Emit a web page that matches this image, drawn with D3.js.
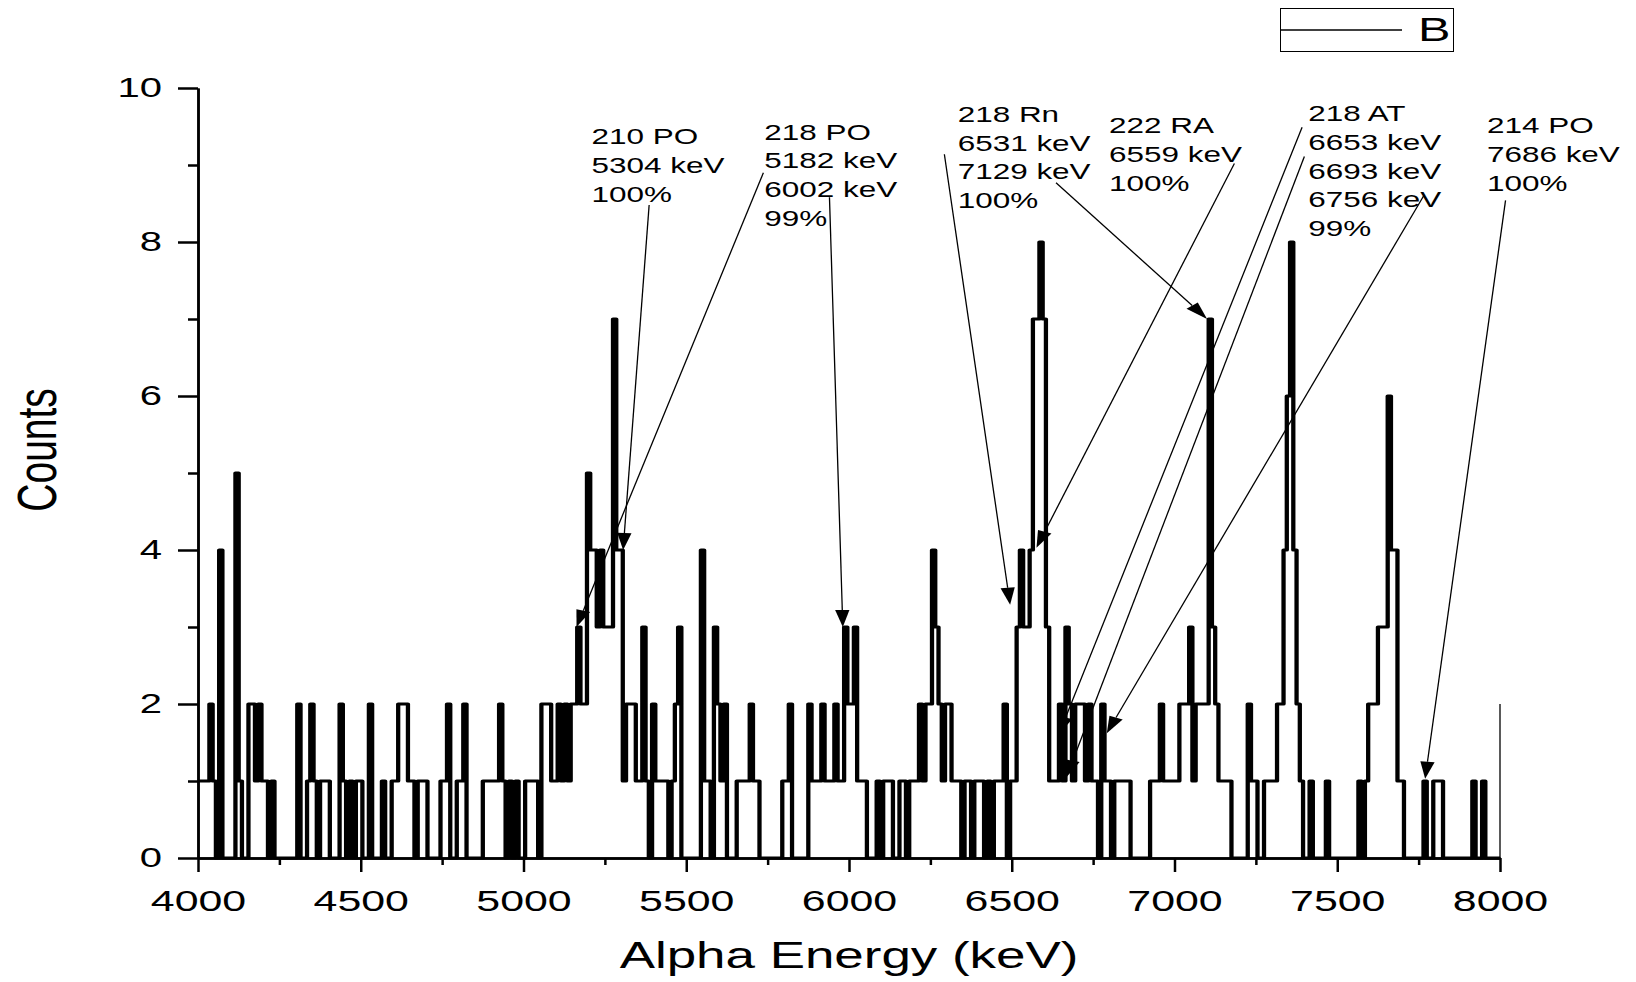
<!DOCTYPE html>
<head>
  <meta charset="utf-8">
  <title>Alpha Energy Spectrum</title>
  <script src="https://cdn.jsdelivr.net/npm/d3@7"></script>
  <style>
    body { margin: 0; background: #fff; }
    text { font-family: "Liberation Sans", Arial, Helvetica, sans-serif; fill: #000; }
  </style>
</head>

<body>

  <script type="text/javascript">
    var WIDTH = 1636;
    var HEIGHT = 982;
    var STRETCH = 1.43;   // the original export is stretched sideways, text and strokes included
    var BIN = 10;         // keV per channel

    //===========data
    // channel centres (keV) that hold counts; every other channel is 0
    var binEnergy = [
      4000, 4010, 4020, 4030, 4040, 4050, 4070, 4120, 4130, 4160, 4170, 4180, 4190, 4200, 4210, 4230,
      4310, 4340, 4350, 4360, 4380, 4390, 4400, 4440, 4450, 4470, 4490, 4500, 4530, 4570,
      4600, 4610, 4620, 4630, 4640, 4650, 4660, 4680, 4690, 4700, 4750, 4760, 4770,
      4800, 4810, 4820, 4880, 4890, 4900, 4910, 4920, 4930, 4940, 4960, 4980,
      5010, 5020, 5030, 5040, 5060, 5070, 5080, 5090, 5100, 5110, 5120, 5130, 5140, 5150,
      5160, 5170, 5180, 5190, 5200, 5210, 5220, 5230, 5240, 5250, 5260, 5270, 5280, 5290,
      5300, 5310, 5320, 5330, 5340, 5350, 5360, 5370, 5380, 5400, 5410, 5420, 5430, 5440,
      5460, 5470, 5480, 5550, 5560, 5570, 5590, 5600, 5610, 5620, 5660, 5670, 5680, 5690,
      5700, 5710, 5720, 5800, 5810, 5820, 5880, 5890, 5900, 5910, 5920, 5930, 5940, 5950,
      5960, 5970, 5980, 5990, 6000, 6010, 6020, 6030, 6040, 6050, 6090, 6110, 6120, 6130,
      6160, 6170, 6190, 6200, 6210, 6220, 6230, 6240, 6250, 6260, 6270, 6280, 6290, 6300,
      6310, 6320, 6330, 6340, 6360, 6370, 6390, 6400, 6410, 6430, 6450, 6460, 6470, 6480,
      6500, 6510, 6520, 6530, 6540, 6550, 6560, 6570, 6580, 6590, 6600, 6610, 6620, 6630,
      6640, 6650, 6660, 6670, 6680, 6690, 6700, 6710, 6720, 6730, 6740, 6750, 6760, 6780,
      6790, 6800, 6820, 6830, 6840, 6850, 6860, 6930, 6940, 6950, 6960, 6970, 6980, 6990,
      7000, 7010, 7020, 7030, 7040, 7050, 7060, 7070, 7080, 7090, 7100, 7110, 7120, 7130,
      7140, 7150, 7160, 7170, 7230, 7240, 7250, 7280, 7290, 7300, 7310, 7320, 7330, 7340,
      7350, 7360, 7370, 7380, 7390, 7420, 7470, 7570, 7590, 7600, 7610, 7620, 7630, 7640,
      7650, 7660, 7670, 7680, 7690, 7700, 7770, 7800, 7810, 7820, 7920, 7950
    ];
    var binCounts = [
      1, 1, 1, 1, 2, 1, 4, 5, 1, 2, 2, 1, 2, 1, 1, 1,
      2, 1, 2, 1, 1, 1, 1, 2, 1, 1, 1, 1, 2, 1,
      1, 1, 2, 2, 2, 1, 1, 1, 1, 1, 1, 1, 2,
      1, 1, 2, 1, 1, 1, 1, 1, 2, 1, 1, 1,
      1, 1, 1, 1, 2, 2, 2, 1, 1, 2, 1, 2, 1, 2,
      2, 3, 2, 2, 5, 4, 4, 3, 4, 3, 3, 3, 7, 4,
      4, 1, 2, 2, 2, 1, 1, 3, 1, 2, 1, 1, 1, 1,
      1, 2, 3, 4, 1, 1, 3, 2, 1, 2, 1, 1, 1, 1,
      2, 1, 1, 1, 1, 2, 2, 1, 1, 1, 2, 1, 1, 1,
      2, 1, 1, 3, 2, 2, 3, 1, 1, 1, 1, 1, 1, 1,
      1, 1, 1, 1, 1, 2, 1, 2, 2, 4, 3, 2, 1, 2,
      2, 1, 1, 1, 1, 1, 1, 1, 1, 1, 1, 1, 1, 2,
      1, 1, 3, 4, 3, 3, 4, 7, 7, 8, 7, 3, 1, 1,
      1, 2, 1, 3, 2, 1, 2, 2, 2, 1, 2, 1, 1, 2,
      1, 1, 1, 1, 1, 1, 1, 1, 1, 1, 2, 1, 1, 1,
      1, 1, 2, 2, 2, 3, 1, 2, 2, 2, 2, 7, 3, 2,
      1, 1, 1, 1, 2, 1, 1, 1, 1, 1, 1, 2, 2, 4,
      6, 8, 4, 2, 1, 1, 1, 1, 1, 2, 2, 2, 3, 3,
      3, 6, 4, 4, 1, 1, 1, 1, 1, 1, 1, 1
    ];

    var xMajorTicks = [4000, 4500, 5000, 5500, 6000, 6500, 7000, 7500, 8000];
    var xMinorTicks = [4250, 4750, 5250, 5750, 6250, 6750, 7250, 7750];
    var yMajorTicks = [0, 2, 4, 6, 8, 10];
    var yMinorTicks = [1, 3, 5, 7, 9];

    // peak notes: text lines, where the first line sits (keV, counts)
    var noteText = [
      ["210 PO", "5304 keV", "100%"],
      ["218 PO", "5182 keV", "6002 keV", "99%"],
      ["218 Rn", "6531 keV", "7129 keV", "100%"],
      ["222 RA", "6559 keV", "100%"],
      ["218 AT", "6653 keV", "6693 keV", "6756 keV", "99%"],
      ["214 PO", "7686 keV", "100%"]
    ];
    var noteAt = [[5209, 9.27], [5740, 9.33], [6334, 9.56], [6799, 9.41], [7411, 9.57], [7960, 9.41]];

    // arrows from a note to its peak, (keV, counts)
    var arrowFrom = [[5386, 8.48], [5737, 8.90], [5940, 8.58], [6293, 9.14], [6636, 8.77],
                     [7184, 9.02], [7392, 9.49], [7399, 9.11], [7767, 8.61], [8017, 8.54]];
    var arrowTo   = [[5306, 4.00], [5163, 3.00], [5981, 3.00], [6495, 3.29], [7100, 7.00],
                     [6576, 4.03], [6645, 1.61], [6668, 1.05], [6792, 1.62], [7770, 1.03]];

    //===========scales
    var x = d3.scaleLinear().domain([4000, 8000]).range([198, 1500]);
    var y = d3.scaleLinear().domain([0, 10]).range([858, 88]);
    // same x scale before the sideways stretch, so strokes widen like the original
    var xRaw = d3.scaleLinear().domain([4000, 8000]).range([198 / STRETCH, 1500 / STRETCH]);

    var svg = d3.select("body").append("svg")
                .attr("width", WIDTH)
                .attr("height", HEIGHT);

    //===========histogram as one step line
    var lookup = {};
    binEnergy.forEach(function(e, i){ lookup[e] = binCounts[i]; });
    var steps = d3.range(4000, 8001, BIN).map(function(e){
      return [Math.max(4000, e - BIN / 2), lookup[e] || 0];
    });
    steps.push([8000, 0]);

    var line = d3.line()
                 .x(function(d){ return xRaw(d[0]); })
                 .y(function(d){ return y(d[1]); })
                 .curve(d3.curveStepAfter);

    svg.append("g")
       .attr("transform", "scale(" + STRETCH + ",1)")
       .append("path")
       .datum(steps)
       .attr("d", line)
       .attr("fill", "none")
       .attr("stroke", "#000")
       .attr("stroke-width", 3)
       .attr("stroke-linejoin", "round");

    // short closing line at the right end
    svg.append("line")
       .attr("x1", x(8000)).attr("x2", x(8000))
       .attr("y1", y(0)).attr("y2", y(2))
       .attr("stroke", "#000").attr("stroke-width", 1.3);

    //===========axes
    function styleAxis(g){
      g.select(".domain").attr("stroke-width", 2.5);
      g.selectAll(".tick line").attr("stroke-width", 2.5);
    }

    svg.append("g")
       .attr("transform", "translate(0," + y(0) + ")")
       .call(d3.axisBottom(x).tickValues(xMinorTicks).tickSize(7).tickSizeOuter(0).tickFormat(""))
       .call(styleAxis);

    var gx = svg.append("g")
       .attr("transform", "translate(0," + y(0) + ")")
       .call(d3.axisBottom(x).tickValues(xMajorTicks).tickSize(14).tickPadding(18)
               .tickSizeOuter(0).tickFormat(d3.format("d")))
       .call(styleAxis);
    gx.selectAll("text")
      .attr("font-size", 30)
      .attr("font-family", null)
      .attr("transform", "scale(" + STRETCH + ",1)");

    svg.append("g")
       .attr("transform", "translate(" + x(4000) + ",0)")
       .call(d3.axisLeft(y).tickValues(yMinorTicks).tickSize(10).tickSizeOuter(0).tickFormat(""))
       .call(styleAxis);

    var gy = svg.append("g")
       .attr("transform", "translate(" + x(4000) + ",0)")
       .call(d3.axisLeft(y).tickValues(yMajorTicks).tickSize(20).tickPadding(16).tickSizeOuter(0))
       .call(styleAxis);
    gy.selectAll("text")
      .attr("font-size", 28)
      .attr("font-family", null)
      .attr("x", -36 / STRETCH)
      .attr("transform", "scale(" + STRETCH + ",1)");

    svg.append("text")
       .attr("transform", "translate(" + x(6000) + ",968) scale(" + STRETCH + ",1)")
       .attr("text-anchor", "middle")
       .attr("font-size", 37)
       .text("Alpha Energy (keV)");

    svg.append("text")
       .attr("transform", "translate(56," + y(5.3) + ") rotate(-90) scale(1," + STRETCH + ")")
       .attr("text-anchor", "middle")
       .attr("font-size", 39)
       .text("Counts");

    //===========notes and arrows
    var notes = svg.selectAll("text.note")
       .data(noteText)
       .enter().append("text")
       .attr("class", "note")
       .attr("font-size", 22)
       .attr("transform", function(d, i){
         return "translate(" + x(noteAt[i][0]) + "," + y(noteAt[i][1]) + ") scale(" + STRETCH + ",1)";
       });
    notes.selectAll("tspan")
       .data(function(d){ return d; })
       .enter().append("tspan")
       .attr("x", 0)
       .attr("y", function(d, i){ return i * 28.7; })
       .text(function(d){ return d; });

    var HEAD_L = 17, HEAD_W = 5;
    arrowFrom.forEach(function(f, i){
      var sx = x(f[0]), sy = y(f[1]);
      var tx = x(arrowTo[i][0]), ty = y(arrowTo[i][1]);
      // build the head unstretched, then stretch it sideways like the rest
      var dx = (tx - sx) / STRETCH, dy = ty - sy;
      var len = Math.sqrt(dx * dx + dy * dy);
      var ux = dx / len, uy = dy / len;
      var bx = -HEAD_L * ux, by = -HEAD_L * uy;
      var px = -uy * HEAD_W, py = ux * HEAD_W;

      svg.append("line")
         .attr("x1", sx).attr("y1", sy)
         .attr("x2", tx + bx * STRETCH).attr("y2", ty + by)
         .attr("stroke", "#000").attr("stroke-width", 1.3);

      svg.append("polygon")
         .attr("points", [
           [tx, ty],
           [tx + (bx + px) * STRETCH, ty + by + py],
           [tx + (bx - px) * STRETCH, ty + by - py]
         ].map(function(p){ return p.join(","); }).join(" "))
         .attr("fill", "#000");
    });

    //===========legend
    var legend = svg.append("g");
    legend.append("rect")
          .attr("x", 1280.5).attr("y", 8.5)
          .attr("width", 173).attr("height", 43)
          .attr("fill", "none").attr("stroke", "#000").attr("stroke-width", 1);
    legend.append("line")
          .attr("x1", 1281).attr("x2", 1402)
          .attr("y1", 30).attr("y2", 30)
          .attr("stroke", "#000").attr("stroke-width", 1.7);
    legend.append("text")
          .attr("transform", "translate(1418,41) scale(" + STRETCH + ",1)")
          .attr("font-size", 34)
          .text("B");

  </script>
</body>
